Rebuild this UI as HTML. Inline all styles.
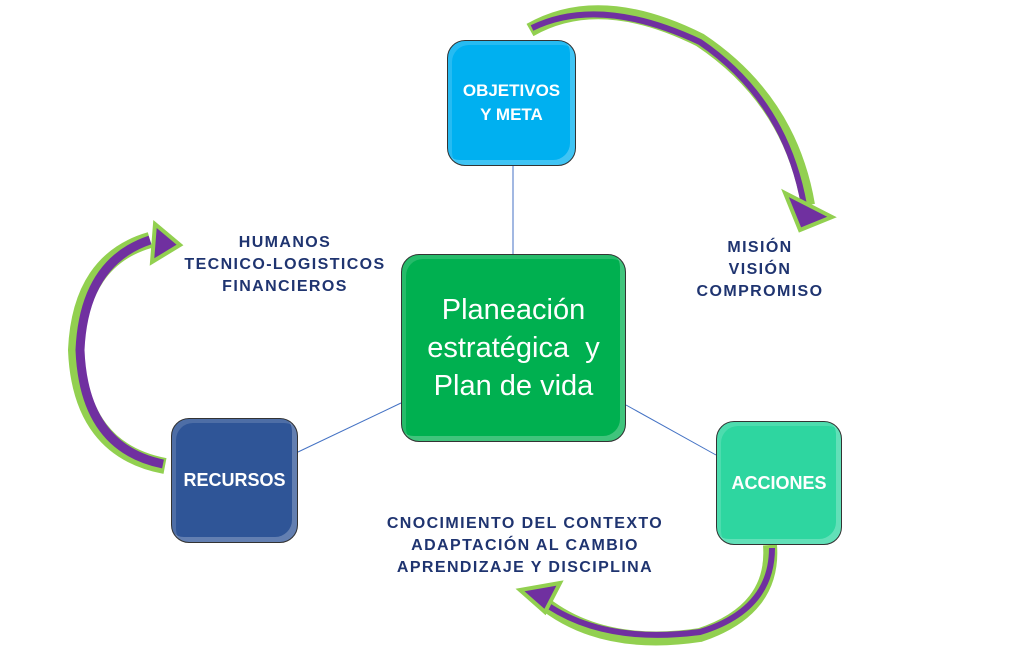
<!DOCTYPE html>
<html><head><meta charset="utf-8"><style>
body{margin:0;width:1024px;height:646px;background:#fff;position:relative;overflow:hidden;font-family:"Liberation Sans",sans-serif}
.b{position:absolute;border:1.5px solid #333;border-radius:18px;color:#fff;display:flex;align-items:center;justify-content:center;text-align:center;font-weight:bold;box-shadow:inset -5px -5px 0 rgba(255,255,255,.25),inset 4px 4px 0 rgba(255,255,255,.15)}
.t{position:absolute;color:#1f3470;font-weight:bold;font-size:16px;letter-spacing:1.4px;text-align:center;line-height:22px}
</style></head><body>
<svg width="1024" height="646" style="position:absolute;left:0;top:0">
<g stroke="#4472c4" stroke-width="1"><line x1="513" y1="166" x2="513" y2="254"/><line x1="401" y1="403" x2="298" y2="452"/><line x1="626" y1="405" x2="716" y2="455"/></g>
<g fill="none" stroke-linecap="butt">
<path d="M530 30 Q600 -10 700 40 Q790 100 808 205" stroke="#92d050" stroke-width="14"/>
<path d="M532 28 Q600 -5 700 42 Q785 100 804 205" stroke="#7030a0" stroke-width="6"/>
<path d="M165 466 Q80 450 76 350 Q80 260 150 240" stroke="#92d050" stroke-width="16"/>
<path d="M163 464 Q84 448 80 350 Q84 262 150 240" stroke="#7030a0" stroke-width="9"/>
<path d="M770 545 Q775 610 700 635 Q600 650 540 600" stroke="#92d050" stroke-width="14"/>
<path d="M772 548 Q772 610 700 632 Q600 645 540 600" stroke="#7030a0" stroke-width="6"/>
</g>
<polygon points="785,193 832,217 800,230" fill="#7030a0" stroke="#92d050" stroke-width="4"/>
<polygon points="155,224 180,245 152,262" fill="#7030a0" stroke="#92d050" stroke-width="4"/>
<polygon points="560,583 520,590 545,612" fill="#7030a0" stroke="#92d050" stroke-width="4"/>
</svg>
<div class="b" style="left:447px;top:40px;width:127px;height:124px;background:#00b0f0;font-size:17px;line-height:24px">OBJETIVOS<br>Y META</div>
<div class="b" style="left:401px;top:254px;width:223px;height:186px;background:#00b050;font-weight:normal;font-size:29px;line-height:38px">Planeación<br>estratégica&nbsp; y<br>Plan de vida</div>
<div class="b" style="left:171px;top:418px;width:125px;height:123px;background:#2f5597;font-size:18px">RECURSOS</div>
<div class="b" style="left:716px;top:421px;width:124px;height:122px;background:#2ed6a0;font-size:18px">ACCIONES</div>
<div class="t" style="left:160px;top:232px;width:250px">HUMANOS<br>TECNICO-LOGISTICOS<br>FINANCIEROS</div>
<div class="t" style="left:660px;top:237px;width:200px">MISIÓN<br>VISIÓN<br>COMPROMISO</div>
<div class="t" style="left:345px;top:513px;width:360px">CNOCIMIENTO DEL CONTEXTO<br>ADAPTACIÓN AL CAMBIO<br>APRENDIZAJE Y DISCIPLINA</div>
</body></html>
